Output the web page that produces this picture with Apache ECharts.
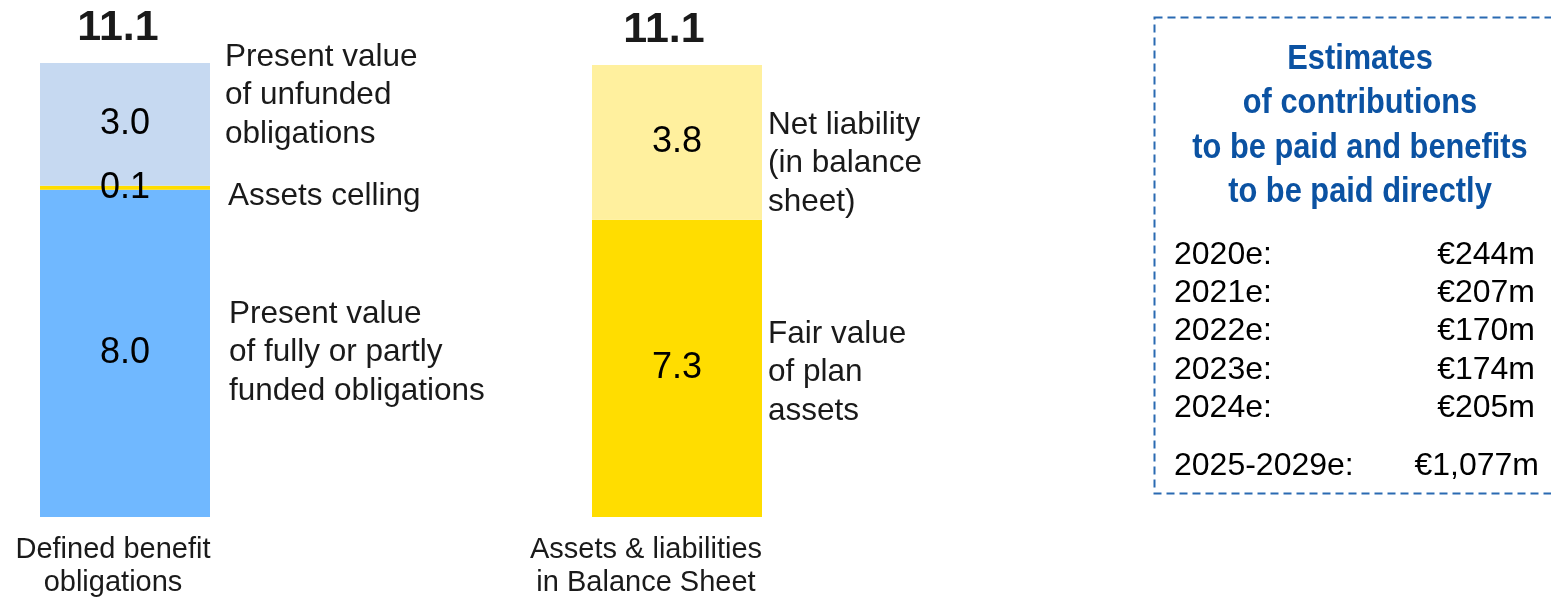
<!DOCTYPE html>
<html>
<head>
<meta charset="utf-8">
<script src="https://cdn.jsdelivr.net/npm/echarts@6/dist/echarts.min.js"></script>
<style>html,body{margin:0;padding:0;background:#fff;}#c{width:1551px;height:599px;}</style>
</head>
<body>
<div id="c"></div>
<script>
// ---- data ----
const categories = ['Defined benefit\nobligations', 'Assets & liabilities\nin Balance Sheet'];
// bar 1 segments (bottom -> top)
const bar1Names = ['Present value\nof fully or partly\nfunded obligations', 'Assets celling', 'Present value\nof unfunded\nobligations'];
const bar1Values = [8.0, 0.1, 3.0];
// bar 2 segments (bottom -> top)
const bar2Names = ['Fair value\nof plan\nassets', 'Net liability\n(in balance\nsheet)'];
const bar2Values = [7.3, 3.8];
const totals = [11.1, 11.1];
// estimates box
const estimateTitle = ['Estimates', 'of contributions', 'to be paid and benefits', 'to be paid directly'];
const estimateYears = ['2020e:', '2021e:', '2022e:', '2023e:', '2024e:', '2025-2029e:'];
const estimateAmounts = ['€244m', '€207m', '€170m', '€174m', '€205m', '€1,077m'];

// ---- styles ----
const FONT = '"Liberation Sans", Arial, sans-serif';
const bar1Colors = ['#70b8ff', '#ffdd00', '#c6d9f1'];
const bar2Colors = ['#ffdd00', '#fff09e'];
const TXT = '#1a1a1a';

const chart = echarts.init(document.getElementById('c'), null, {renderer: 'canvas'});

function axisPair(i, cat, padRight) {
  return {
    x: {type: 'category', gridIndex: i, data: [cat],
        axisLine: {show: false}, axisTick: {show: false},
        axisLabel: {fontFamily: FONT, fontSize: 29, color: TXT, lineHeight: 33, margin: 16, interval: 0,
                    padding: [0, padRight, 0, 0]}},
    y: {type: 'value', gridIndex: i, min: 0, max: totals[i], show: false, splitLine: {show: false}}
  };
}
const a0 = axisPair(0, categories[0], 24);
const a1 = axisPair(1, categories[1], 62);

const valueLabel = {show: true, position: 'inside', formatter: p => p.value.toFixed(1),
                    fontFamily: FONT, fontSize: 36, color: '#000'};
const series = [];
bar1Values.forEach((v, k) => series.push({
  type: 'bar', xAxisIndex: 0, yAxisIndex: 0, stack: 'b1', barWidth: '100%',
  data: [v], itemStyle: {color: bar1Colors[k]}, silent: true, label: valueLabel
}));
bar2Values.forEach((v, k) => series.push({
  type: 'bar', xAxisIndex: 1, yAxisIndex: 1, stack: 'b2', barWidth: '100%',
  data: [v], itemStyle: {color: bar2Colors[k]}, silent: true, label: valueLabel
}));

chart.setOption({
  animation: false,
  backgroundColor: '#fff',
  grid: [
    {left: 40, width: 170, top: 63, bottom: 82},
    {left: 592, width: 170, top: 65, bottom: 82}
  ],
  xAxis: [a0.x, a1.x],
  yAxis: [a0.y, a1.y],
  series: series
});

// ---- overlay text computed from the scales ----
const g = [];
function segCenters(values) {
  let acc = 0; const out = [];
  values.forEach(v => { out.push(acc + v / 2); acc += v; });
  return out;
}
function addAnnotations(gi, names, values, dys, dxs) {
  const centers = segCenters(values);
  const right = chart.convertToPixel({gridIndex: gi}, [0, 0])[0] + 85;
  names.forEach((n, k) => {
    const y = chart.convertToPixel({gridIndex: gi}, [0, centers[k]])[1] + (dys[k] || 0);
    g.push({type: 'text', silent: true, style: {text: n, x: right + dxs[k], y: y, fill: TXT,
      font: '31.5px ' + FONT, lineHeight: 38.5, textAlign: 'left', textVerticalAlign: 'middle'}});
  });
}
addAnnotations(0, bar1Names, bar1Values, [-1, 9, -29], [19, 18, 15]);
addAnnotations(1, bar2Names, bar2Values, [4, 21], [6, 6]);

const totalDx = [-7, -13];
totals.forEach((t, gi) => {
  const p = chart.convertToPixel({gridIndex: gi}, [0, 11.1]);
  g.push({type: 'text', silent: true, style: {text: t.toFixed(1), x: p[0] + totalDx[gi], y: p[1] - 35, fill: TXT,
    font: 'bold 43px ' + FONT, textAlign: 'center', textVerticalAlign: 'middle'}});
});

// estimates box
g.push({type: 'rect', silent: true, shape: {x: 1154.5, y: 17.5, width: 500, height: 476},
  style: {fill: 'none', stroke: '#2a6ab2', lineWidth: 2, lineDash: [8, 5]}});
g.push({type: 'text', silent: true, x: 1360, y: 126, scaleX: 0.88, scaleY: 1,
  style: {text: estimateTitle.join('\n'), x: 0, y: 0,
  fill: '#0b52a2', font: 'bold 35px ' + FONT,
  lineHeight: 44.5, textAlign: 'center', textVerticalAlign: 'middle'}});
estimateYears.forEach((yr, k) => {
  const last = k === estimateYears.length - 1;
  const y = 255 + k * 38.3 + (last ? 20 : 0);
  g.push({type: 'text', silent: true, style: {text: yr, x: 1174, y: y, fill: '#000',
    font: '32px ' + FONT, textAlign: 'left', textVerticalAlign: 'middle'}});
  g.push({type: 'text', silent: true, style: {text: estimateAmounts[k], x: last ? 1539 : 1535, y: y, fill: '#000',
    font: '32px ' + FONT, textAlign: 'right', textVerticalAlign: 'middle'}});
});

chart.setOption({graphic: g});
</script>
</body>
</html>
